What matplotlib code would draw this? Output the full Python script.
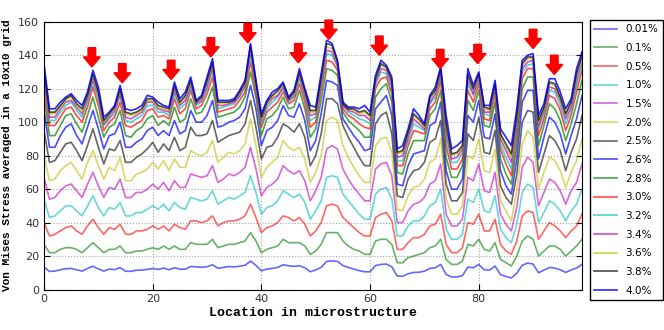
import matplotlib
matplotlib.use("Agg")
import matplotlib.pyplot as plt

x = list(range(100))

s001 = [13.4, 10.8, 11.0, 11.8, 12.4, 12.6, 11.8, 11.0, 12.6, 13.9,
        12.3, 11.0, 12.2, 11.9, 13.1, 10.9, 10.9, 11.5, 11.6, 12.0,
        12.6, 12.0, 12.8, 11.8, 13.0, 12.2, 12.1, 13.8, 13.5, 13.3,
        13.6, 14.8, 12.7, 13.2, 13.7, 13.5, 13.9, 14.5, 17.0, 14.4,
        11.2, 12.2, 12.6, 13.2, 14.8, 14.2, 13.8, 14.2, 13.0, 10.6,
        11.7, 13.3, 16.8, 17.1, 16.8, 14.3, 13.2, 12.2, 11.3, 10.6,
        10.6, 14.3, 15.0, 15.2, 13.6, 8.0, 7.9, 9.4, 10.2, 10.3,
        11.0, 12.6, 13.0, 15.0, 9.0, 7.5, 7.5, 8.3, 13.4, 13.0,
        15.0, 11.8, 11.6, 14.0, 8.9, 7.8, 6.9, 9.8, 14.5, 15.8,
        15.2, 10.0, 11.6, 13.2, 12.8, 11.8, 10.2, 11.7, 12.8, 15.0]
s01 = [27, 22, 22, 24, 25, 25, 24, 22, 25, 28,
       25, 22, 24, 24, 26, 22, 22, 23, 23, 24,
       25, 24, 26, 24, 26, 24, 24, 28, 27, 27,
       27, 30, 25, 26, 27, 27, 28, 29, 34, 29,
       22, 24, 25, 26, 30, 28, 28, 28, 26, 21,
       23, 27, 34, 34, 34, 29, 26, 24, 23, 21,
       21, 29, 30, 30, 27, 16, 16, 19, 20, 21,
       22, 25, 26, 30, 18, 15, 15, 17, 27, 26,
       30, 24, 23, 28, 18, 16, 14, 20, 29, 32,
       30, 20, 23, 26, 26, 24, 20, 23, 26, 30]
s05 = [40, 32, 33, 35, 37, 38, 35, 33, 38, 42,
       37, 33, 37, 36, 39, 33, 33, 35, 35, 36,
       38, 36, 38, 35, 39, 37, 36, 41, 41, 40,
       41, 44, 38, 40, 41, 41, 42, 44, 51, 43,
       34, 37, 38, 40, 44, 43, 41, 43, 39, 32,
       35, 40, 50, 51, 50, 43, 40, 37, 34, 32,
       32, 43, 45, 46, 41, 24, 24, 28, 31, 31,
       33, 38, 39, 45, 27, 22, 22, 25, 40, 39,
       45, 35, 35, 42, 27, 23, 21, 29, 44, 47,
       46, 30, 35, 40, 38, 35, 31, 35, 38, 45]
s10 = [54, 43, 44, 47, 50, 50, 47, 44, 50, 56,
       49, 44, 49, 48, 52, 44, 44, 46, 46, 48,
       50, 48, 51, 47, 52, 49, 48, 55, 54, 53,
       54, 59, 51, 53, 55, 54, 56, 58, 68, 58,
       45, 49, 50, 53, 59, 57, 55, 57, 52, 42,
       47, 53, 67, 68, 67, 57, 53, 49, 45, 42,
       42, 57, 60, 61, 54, 32, 32, 38, 41, 41,
       44, 50, 52, 60, 36, 30, 30, 33, 54, 52,
       60, 47, 46, 56, 36, 31, 28, 39, 58, 63,
       61, 40, 46, 53, 51, 47, 41, 47, 51, 60]
s15 = [67, 54, 55, 59, 62, 63, 59, 55, 63, 70,
       62, 55, 61, 60, 66, 55, 55, 58, 58, 60,
       63, 60, 64, 59, 65, 61, 61, 69, 68, 67,
       68, 74, 64, 66, 69, 68, 70, 73, 85, 72,
       56, 61, 63, 66, 74, 71, 69, 71, 65, 53,
       59, 67, 84, 86, 84, 72, 66, 61, 57, 53,
       53, 72, 75, 76, 68, 40, 40, 47, 51, 52,
       55, 63, 65, 75, 45, 38, 38, 42, 67, 65,
       75, 59, 58, 70, 45, 39, 35, 49, 73, 79,
       76, 50, 58, 66, 64, 59, 51, 59, 64, 75]
s20 = [80, 65, 66, 71, 74, 76, 71, 66, 76, 83,
       74, 66, 73, 71, 79, 65, 65, 69, 70, 72,
       76, 72, 77, 71, 78, 73, 73, 83, 81, 80,
       82, 89, 76, 79, 82, 81, 83, 87, 102, 86,
       67, 73, 76, 79, 89, 85, 83, 85, 78, 64,
       70, 80, 101, 103, 101, 86, 79, 73, 68, 64,
       64, 86, 90, 91, 82, 48, 47, 56, 61, 62,
       66, 76, 78, 90, 54, 45, 45, 50, 80, 78,
       90, 71, 70, 84, 53, 47, 41, 59, 87, 95,
       91, 60, 70, 79, 77, 71, 61, 70, 77, 90]
s25 = [95, 76, 77, 82, 87, 88, 83, 77, 86, 96,
       85, 75, 84, 83, 89, 76, 76, 79, 81, 84,
       88, 82, 87, 83, 91, 83, 85, 97, 92, 92,
       93, 101, 88, 90, 92, 93, 94, 99, 113, 97,
       78, 85, 86, 91, 99, 97, 94, 99, 91, 74,
       80, 93, 114, 114, 111, 98, 91, 85, 79, 74,
       74, 99, 104, 106, 93, 56, 55, 66, 71, 72,
       76, 88, 90, 101, 63, 53, 53, 58, 93, 89,
       103, 82, 81, 95, 62, 55, 51, 69, 100, 107,
       106, 70, 81, 92, 89, 83, 71, 82, 90, 104]
s26 = [107, 85, 85, 92, 97, 99, 92, 87, 97, 107,
       96, 84, 92, 93, 100, 85, 85, 88, 90, 95,
       97, 92, 95, 92, 101, 93, 95, 107, 100, 100,
       104, 113, 97, 98, 100, 101, 103, 108, 122, 108,
       86, 95, 97, 101, 110, 104, 103, 111, 101, 83,
       89, 105, 125, 124, 122, 102, 97, 92, 88, 83,
       84, 108, 112, 116, 104, 63, 62, 74, 81, 82,
       83, 98, 100, 112, 71, 60, 60, 66, 104, 100,
       113, 91, 90, 105, 71, 62, 57, 78, 112, 119,
       119, 78, 91, 103, 100, 93, 81, 92, 102, 116]
s28 = [115, 92, 92, 98, 104, 105, 99, 94, 104, 115,
       103, 91, 97, 99, 107, 92, 91, 95, 97, 102,
       104, 98, 101, 98, 109, 100, 102, 114, 105, 106,
       112, 121, 103, 104, 105, 106, 109, 115, 130, 115,
       92, 102, 104, 108, 115, 108, 109, 119, 108, 91,
       96, 113, 132, 131, 128, 106, 101, 98, 95, 91,
       91, 115, 120, 123, 112, 70, 69, 81, 89, 89,
       89, 104, 108, 119, 79, 67, 67, 74, 113, 107,
       119, 98, 97, 112, 78, 69, 63, 86, 120, 127,
       127, 86, 98, 111, 108, 101, 89, 99, 111, 125]
s30 = [122, 98, 98, 103, 108, 109, 104, 100, 109, 121,
       110, 95, 100, 103, 112, 98, 97, 99, 101, 107,
       108, 103, 104, 102, 114, 105, 108, 119, 108, 110,
       117, 127, 106, 107, 108, 109, 113, 118, 136, 118,
       97, 106, 109, 112, 118, 111, 113, 123, 112, 97,
       100, 119, 137, 136, 131, 108, 104, 102, 99, 97,
       96, 120, 126, 127, 117, 74, 74, 86, 95, 94,
       93, 108, 112, 125, 86, 72, 72, 78, 119, 112,
       123, 102, 101, 117, 84, 75, 68, 92, 126, 132,
       132, 92, 102, 116, 114, 107, 95, 104, 118, 131]
s32 = [126, 101, 101, 106, 110, 112, 107, 103, 112, 124,
       113, 98, 102, 105, 116, 101, 100, 102, 104, 110,
       110, 106, 106, 104, 117, 108, 111, 121, 110, 112,
       120, 131, 108, 109, 110, 111, 115, 121, 140, 121,
       99, 108, 112, 115, 120, 112, 115, 126, 115, 101,
       103, 122, 141, 140, 133, 110, 106, 104, 102, 101,
       99, 122, 130, 129, 120, 77, 77, 89, 99, 97,
       95, 111, 115, 128, 91, 76, 76, 82, 123, 116,
       125, 105, 104, 120, 87, 79, 72, 97, 130, 134,
       135, 96, 105, 119, 118, 110, 99, 107, 122, 134]
s34 = [129, 103, 103, 108, 112, 113, 109, 105, 114, 126,
       116, 99, 103, 107, 117, 103, 102, 104, 106, 112,
       112, 108, 107, 106, 119, 110, 113, 123, 111, 113,
       122, 133, 110, 110, 111, 112, 116, 122, 143, 122,
       101, 110, 114, 116, 121, 113, 116, 128, 116, 104,
       105, 124, 143, 142, 134, 110, 107, 106, 104, 104,
       101, 124, 132, 131, 122, 79, 80, 91, 102, 99,
       96, 112, 117, 129, 95, 78, 79, 84, 126, 117,
       127, 106, 106, 121, 90, 83, 76, 100, 132, 136,
       137, 98, 107, 121, 120, 113, 102, 109, 125, 137]
s36 = [131, 105, 105, 109, 113, 115, 110, 106, 115, 128,
       117, 100, 104, 108, 119, 105, 104, 105, 107, 113,
       113, 109, 108, 107, 121, 111, 115, 124, 112, 114,
       124, 135, 111, 111, 112, 113, 117, 123, 145, 123,
       102, 111, 115, 118, 122, 114, 117, 129, 118, 106,
       106, 126, 145, 144, 135, 111, 108, 107, 105, 106,
       103, 125, 134, 132, 124, 81, 82, 93, 104, 101,
       97, 114, 118, 131, 97, 80, 81, 85, 128, 119,
       128, 108, 107, 122, 92, 85, 79, 103, 134, 138,
       138, 100, 108, 123, 122, 114, 104, 111, 127, 138]
s38 = [132, 106, 106, 110, 114, 116, 111, 108, 116, 129,
       118, 101, 105, 109, 120, 106, 105, 106, 108, 114,
       114, 110, 109, 108, 122, 112, 116, 125, 112, 115,
       125, 136, 112, 112, 112, 113, 118, 124, 146, 124,
       103, 112, 116, 119, 123, 114, 118, 130, 119, 107,
       107, 127, 147, 146, 136, 111, 108, 108, 106, 107,
       104, 126, 135, 133, 125, 82, 83, 94, 105, 102,
       98, 115, 119, 132, 99, 81, 82, 86, 129, 120,
       129, 109, 108, 123, 93, 87, 81, 104, 135, 139,
       139, 101, 109, 124, 123, 115, 105, 112, 129, 140]
s40 = [135, 108, 108, 112, 115, 117, 113, 110, 118, 131,
       121, 103, 106, 110, 122, 108, 107, 108, 110, 116,
       115, 112, 110, 109, 124, 114, 118, 127, 113, 116,
       127, 138, 113, 113, 113, 114, 119, 125, 147, 125,
       105, 113, 118, 120, 124, 115, 119, 132, 120, 110,
       109, 129, 149, 147, 137, 112, 109, 109, 108, 110,
       106, 128, 137, 134, 127, 84, 86, 96, 108, 104,
       99, 116, 121, 133, 104, 84, 86, 89, 132, 122,
       130, 110, 110, 125, 96, 91, 86, 108, 137, 140,
       141, 104, 111, 126, 126, 118, 108, 114, 132, 142]

series = [s001, s01, s05, s10, s15, s20, s25, s26, s28, s30,
          s32, s34, s36, s38, s40]
labels = ['0.01%', '0.1%', '0.5%', '1.0%', '1.5%', '2.0%', '2.5%', '2.6%',
          '2.8%', '3.0%', '3.2%', '3.4%', '3.6%', '3.8%', '4.0%']
colors = ['b', 'g', 'r', 'c', 'm', 'y', 'k'] * 2 + ['b']

# red arrows pointing at the peaks
arrow_x = [8.8, 14.4, 23.4, 30.7, 37.5, 46.8, 52.4, 61.7, 72.9, 79.8, 90.0, 93.9]
arrow_tip = [133, 123.5, 125.5, 139, 147.5, 135.5, 149.5, 140, 132, 135, 144, 128.5]

fig = plt.figure(figsize=(6.64, 3.30), dpi=100)
ax = fig.add_axes([0.0663, 0.1227, 0.8102, 0.8113])

for n, (y, lab, c) in enumerate(zip(series, labels, colors)):
    if n < 7:
        a = 0.6
    elif n < 14:
        a = 0.7
    else:
        a = 0.85
    ax.plot(x, y, color=c, alpha=a, lw=1.2, label=lab)

for xa, ya in zip(arrow_x, arrow_tip):
    ax.arrow(xa, ya + 11.5, 0, -11.5, width=1.4, head_width=3.1,
             head_length=6, length_includes_head=True,
             color='red', clip_on=False, zorder=5)

ax.set_xlim(0, 99)
ax.set_ylim(0, 160)
ax.set_xticks([0, 20, 40, 60, 80])
ax.set_yticks(range(0, 161, 20))
ax.tick_params(direction='in', top=True, right=True, labelsize=8,
               labelcolor='#333333', length=4)
ax.grid(color='gray', ls=':', lw=0.8, alpha=0.7)

ax.set_xlabel('Location in microstructure', family='Liberation Mono',
              weight='bold', fontsize=9.5, labelpad=2)
ax.set_ylabel('Von Mises Stress averaged in a 10x10 grid',
              family='Liberation Mono', weight='bold', fontsize=8, labelpad=4)

fig.legend(loc='upper left', bbox_to_anchor=(0.888, 0.94), fontsize=7.5,
           labelspacing=0.83, handlelength=2.2, handletextpad=0.8,
           borderpad=0.45, borderaxespad=0, fancybox=False,
           edgecolor='black', framealpha=1)

fig.savefig('out.png', dpi=100)
